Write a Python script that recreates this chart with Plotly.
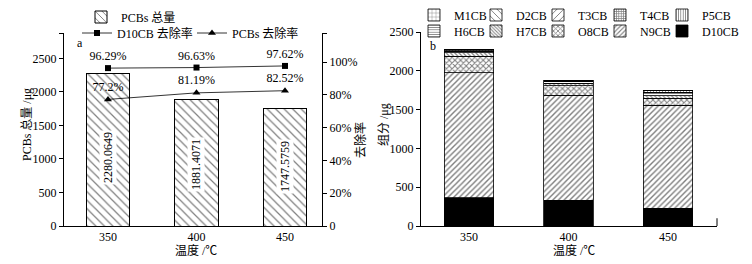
import plotly.graph_objects as go

# ---------------- data ----------------
temps = ["350", "400", "450"]
pcbs_total = [2280.0649, 1881.4071, 1747.5759]
d10_removal = [96.29, 96.63, 97.62]
pcbs_removal = [77.2, 81.19, 82.52]

# composition (ug)
m1cb = [1, 1, 1]
d2cb = [1, 1, 2]
t3cb = [3, 1, 3]
t4cb = [15, 9, 18]
p5cb = [10, 5, 10]
h6cb = [20, 21, 34]
h7cb = [45, 34, 35]
o8cb = [210, 126, 86]
n9cb = [1609, 1350, 1330]
d10cb = [366, 332, 229]

left_ticks = [0, 500, 1000, 1500, 2000, 2500]
right_ticks = [0, 20, 40, 60, 80, 100]
right_ticktext = ["0", "20%", "40%", "60%", "80%", "100%"]
b_ticks = [0, 500, 1000, 1500, 2000, 2500]

# page body has an 8px default margin; size the figure to fit the window
OFF = 8
W, H = 752 - OFF, 264 - OFF
FONT = "Liberation Serif, Noto Sans CJK SC, serif"
FS = 12

def px(x):
    return (x - OFF) / W

def py(y):
    return 1 - (y - OFF) / H

fig = go.Figure()

# ---------------- panel a ----------------
fig.add_trace(go.Bar(
    x=temps, y=pcbs_total, name="PCBs 总量", width=0.49,
    marker=dict(color="white", line=dict(color="black", width=1),
                pattern=dict(shape="\\", size=6, solidity=0.2, fgcolor="black", bgcolor="white")),
    xaxis="x", yaxis="y", legend="legend", showlegend=True,
))
fig.add_trace(go.Scatter(
    x=temps, y=d10_removal, name="D10CB 去除率", mode="lines+markers+text",
    text=[f"{v}%" for v in d10_removal], textposition="top center",
    textfont=dict(size=FS, color="black", family=FONT),
    line=dict(color="black", width=0.8),
    marker=dict(symbol="square", size=6, color="black"),
    xaxis="x", yaxis="y2", legend="legend2",
))
fig.add_trace(go.Scatter(
    x=temps, y=pcbs_removal, name="PCBs 去除率", mode="lines+markers+text",
    text=[f"{v}%" for v in pcbs_removal], textposition="top center",
    textfont=dict(size=FS, color="black", family=FONT),
    line=dict(color="black", width=0.8),
    marker=dict(symbol="triangle-up", size=7, color="black"),
    xaxis="x", yaxis="y2", legend="legend2",
))

# ---------------- panel b ----------------
# invisible spacer entries so the last legend column is not clipped
for lg in ("legend3", "legend4"):
    fig.add_trace(go.Bar(x=temps, y=[0, 0, 0], name=" ", width=0.5,
                         marker=dict(color="rgba(0,0,0,0)", line=dict(width=0)),
                         xaxis="x2", yaxis="y3", legend=lg, hoverinfo="skip"))

b_series = [
    ("D10CB", d10cb, dict(shape="", fgcolor="black", bgcolor="black"), "black", "legend4"),
    ("N9CB", n9cb, dict(shape="/", size=4, solidity=0.35, fgcolor="black", bgcolor="white"), "white", "legend4"),
    ("O8CB", o8cb, dict(shape="x", size=4, solidity=0.45, fgcolor="black", bgcolor="white"), "white", "legend4"),
    ("H7CB", h7cb, dict(shape="\\", size=3, solidity=0.4, fgcolor="black", bgcolor="white"), "white", "legend4"),
    ("H6CB", h6cb, dict(shape="-", size=3, solidity=0.35, fgcolor="black", bgcolor="white"), "white", "legend4"),
    ("P5CB", p5cb, dict(shape="|", size=3, solidity=0.35, fgcolor="black", bgcolor="white"), "white", "legend3"),
    ("T4CB", t4cb, dict(shape="+", size=3, solidity=0.5, fgcolor="black", bgcolor="white"), "white", "legend3"),
    ("T3CB", t3cb, dict(shape="/", size=6, solidity=0.2, fgcolor="black", bgcolor="white"), "white", "legend3"),
    ("D2CB", d2cb, dict(shape="\\", size=6, solidity=0.2, fgcolor="black", bgcolor="white"), "white", "legend3"),
    ("M1CB", m1cb, dict(shape="+", size=5, solidity=0.2, fgcolor="black", bgcolor="white"), "white", "legend3"),
]
for name, vals, pat, col, lg in b_series:
    mk = dict(color=col, line=dict(color="black", width=0.8))
    if pat["shape"]:
        mk["pattern"] = pat
    fig.add_trace(go.Bar(x=temps, y=vals, name=name, width=0.5, marker=mk,
                         xaxis="x2", yaxis="y3", legend=lg))

# ---------------- annotations ----------------
label_y = [1030, 918, 880]  # label centre positions on the bars
ann = []
for i, (v, ly) in enumerate(zip(pcbs_total, label_y)):
    ann.append(dict(x=i, y=ly, xref="x", yref="y", text=f"{v:.4f}", textangle=-90,
                    xanchor="center", yanchor="middle",
                    showarrow=False, bgcolor="white", borderpad=1,
                    font=dict(size=FS, family=FONT, color="black")))
txt = lambda **k: dict(showarrow=False, xref="paper", yref="paper", xanchor="center", yanchor="middle",
                       font=dict(size=FS, family=FONT, color="black"), **k)
ann += [
    txt(x=px(27), y=py(125), text="PCBs 总量 /μg", textangle=-90),
    txt(x=px(360), y=py(140), text="去除率", textangle=-90),
    txt(x=px(196), y=py(250), text="温度 /℃"),
    txt(x=px(574), y=py(250), text="温度 /℃"),
    txt(x=px(384), y=py(125), text="组分 /μg", textangle=-90),
    txt(x=px(80), y=py(43), text="a"),
    txt(x=px(433), y=py(46), text="b"),
]

axis_common = dict(showline=True, linecolor="black", linewidth=1, showgrid=False, zeroline=False,
                   tickfont=dict(size=FS, family=FONT, color="black"), ticks="outside",
                   ticklen=4, tickcolor="black", tickwidth=1)
x_common = {**axis_common, "ticks": "", "ticklen": 0}

ydom = [py(226), py(33)]
lfont = dict(size=FS, family=FONT)
fig.update_layout(
    width=W, height=H, margin=dict(l=0, r=0, t=0, b=0, autoexpand=False),
    paper_bgcolor="white", plot_bgcolor="white", barmode="stack",
    font=dict(family=FONT, size=FS, color="black"),
    xaxis=dict(domain=[px(64), px(322)], range=[-0.497, 2.418], type="category",
               anchor="y", **x_common),
    yaxis=dict(domain=ydom, range=[0, 2880], anchor="x",
               tickvals=left_ticks + [2880], ticktext=[str(v) for v in left_ticks] + [""],
               **axis_common),
    yaxis2=dict(range=[0, 117.7], overlaying="y", side="right", anchor="x",
                tickvals=right_ticks + [117.7], ticktext=right_ticktext + [""],
                **axis_common),
    xaxis2=dict(domain=[px(421), px(717)], range=[-0.482, 2.493], type="category",
                anchor="y3", **x_common),
    yaxis3=dict(domain=[py(226), py(32)], range=[0, 2500], anchor="x2",
                tickvals=b_ticks, **axis_common),
    legend=dict(x=px(81), y=py(17), xanchor="left", yanchor="middle", orientation="h",
                bgcolor="rgba(0,0,0,0)", font=lfont),
    legend2=dict(x=px(77), y=py(33), xanchor="left", yanchor="middle", orientation="h",
                 entrywidth=70, entrywidthmode="pixels",
                 bgcolor="rgba(0,0,0,0)", font=lfont),
    legend3=dict(x=px(414), y=py(15), xanchor="left", yanchor="middle", orientation="h",
                 traceorder="reversed", entrywidth=17, entrywidthmode="pixels",
                 bgcolor="rgba(0,0,0,0)", font=lfont),
    legend4=dict(x=px(414), y=py(31), xanchor="left", yanchor="middle", orientation="h",
                 traceorder="reversed", entrywidth=17, entrywidthmode="pixels",
                 bgcolor="rgba(0,0,0,0)", font=lfont),
    annotations=ann,
    shapes=[dict(type="line", xref="x2 domain", yref="y3 domain", x0=1, x1=1, y0=0, y1=0.04,
                 line=dict(color="black", width=1))],
)

fig.write_html("out.html")
